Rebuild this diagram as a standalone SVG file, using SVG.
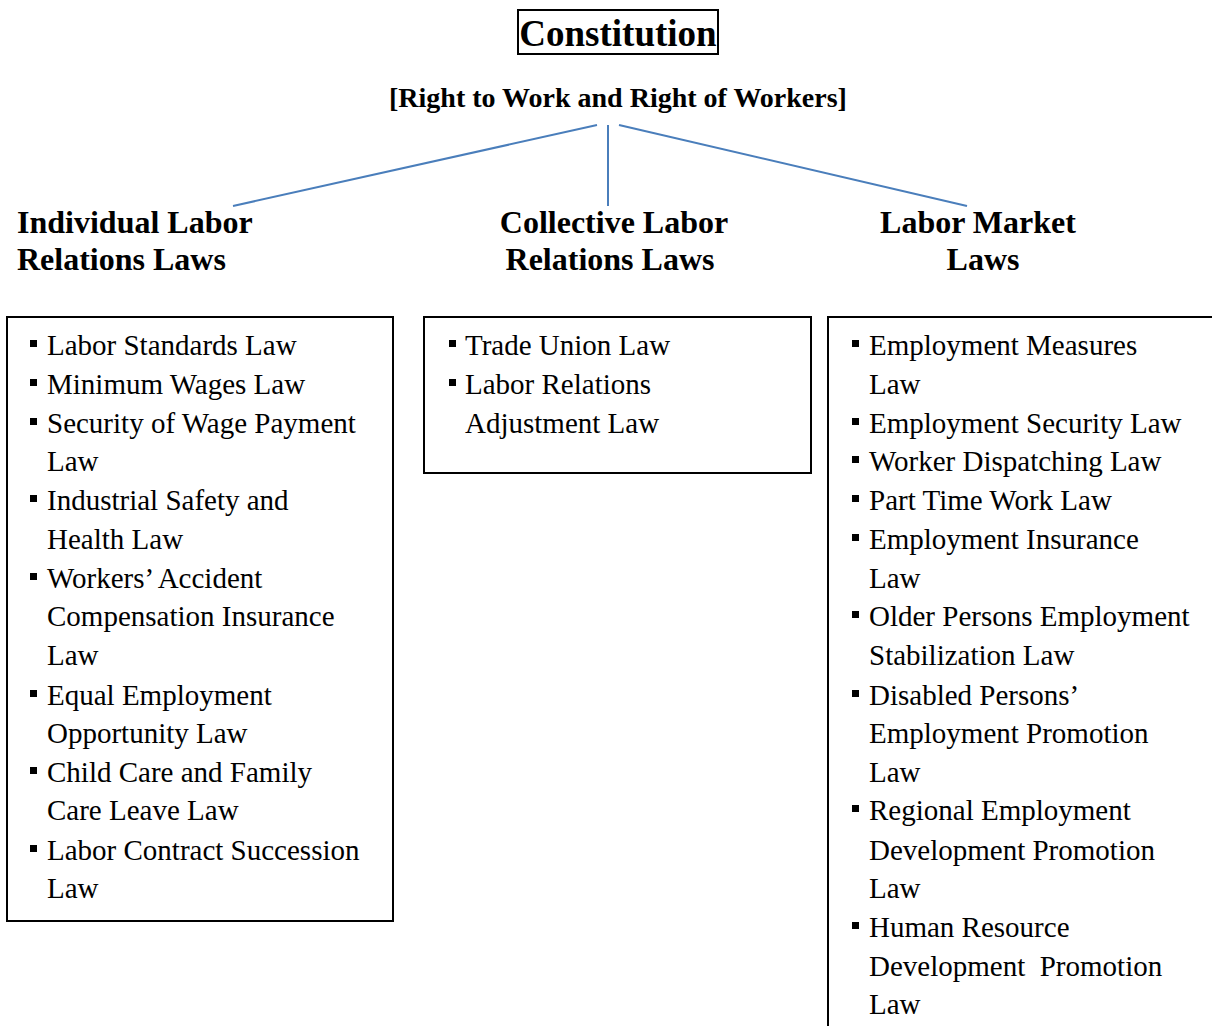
<svg xmlns="http://www.w3.org/2000/svg" width="1212" height="1026" viewBox="0 0 1212 1026">
<style>
.t{font-family:"Liberation Serif","Times New Roman",serif;fill:#000}
.h{font-size:32px;font-weight:bold}
.b{font-size:29px}
.box{fill:none;stroke:#000;stroke-width:2}
.c{stroke:#4a7ebb;stroke-width:2;fill:none}
</style>
<defs>
<rect id="sq" width="7" height="7" fill="#000"/>
</defs>
<rect width="1212" height="1026" fill="#fff"/>
<g id="constitution">
<rect class="box" x="518" y="10" width="200" height="44"/>
<text class="t" x="618" y="46" text-anchor="middle" font-size="37" font-weight="bold">Constitution</text>
<text class="t" x="618" y="107" text-anchor="middle" font-size="28" font-weight="bold">[Right to Work and Right of Workers]</text>
</g>
<g id="connectors">
<line class="c" x1="597" y1="125" x2="233" y2="206"/>
<line class="c" x1="608" y1="125" x2="608" y2="206"/>
<line class="c" x1="619" y1="125" x2="967" y2="206"/>
</g>
<g id="individual">
<text class="t h" x="17" y="233">Individual Labor</text>
<text class="t h" x="17" y="270">Relations Laws</text>
<rect class="box" x="7" y="317" width="386" height="604"/>
<g class="t b">
<use href="#sq" x="30" y="340"/><text x="47" y="355">Labor Standards Law</text>
<use href="#sq" x="30" y="379"/><text x="47" y="394">Minimum Wages Law</text>
<use href="#sq" x="30" y="418"/><text x="47" y="433">Security of Wage Payment</text>
<text x="47" y="471">Law</text>
<use href="#sq" x="30" y="495"/><text x="47" y="510">Industrial Safety and</text>
<text x="47" y="549">Health Law</text>
<use href="#sq" x="30" y="573"/><text x="47" y="588">Workers’ Accident</text>
<text x="47" y="626">Compensation Insurance</text>
<text x="47" y="665">Law</text>
<use href="#sq" x="30" y="690"/><text x="47" y="705">Equal Employment</text>
<text x="47" y="743">Opportunity Law</text>
<use href="#sq" x="30" y="767"/><text x="47" y="782">Child Care and Family</text>
<text x="47" y="820">Care Leave Law</text>
<use href="#sq" x="30" y="845"/><text x="47" y="860">Labor Contract Succession</text>
<text x="47" y="898">Law</text>
</g>
</g>
<g id="collective">
<text class="t h" x="614" y="233" text-anchor="middle">Collective Labor</text>
<text class="t h" x="610" y="270" text-anchor="middle">Relations Laws</text>
<rect class="box" x="424" y="317" width="387" height="156"/>
<g class="t b">
<use href="#sq" x="449" y="340"/><text x="465" y="355">Trade Union Law</text>
<use href="#sq" x="449" y="379"/><text x="465" y="394">Labor Relations</text>
<text x="465" y="433">Adjustment Law</text>
</g>
</g>
<g id="market">
<text class="t h" x="978" y="233" text-anchor="middle">Labor Market</text>
<text class="t h" x="983" y="270" text-anchor="middle">Laws</text>
<rect class="box" x="828" y="317" width="420" height="740"/>
<g class="t b">
<use href="#sq" x="852" y="340"/><text x="869" y="355">Employment Measures</text>
<text x="869" y="394">Law</text>
<use href="#sq" x="852" y="418"/><text x="869" y="433">Employment Security Law</text>
<use href="#sq" x="852" y="456"/><text x="869" y="471">Worker Dispatching Law</text>
<use href="#sq" x="852" y="495"/><text x="869" y="510">Part Time Work Law</text>
<use href="#sq" x="852" y="534"/><text x="869" y="549">Employment Insurance</text>
<text x="869" y="588">Law</text>
<use href="#sq" x="852" y="611"/><text x="869" y="626">Older Persons Employment</text>
<text x="869" y="665">Stabilization Law</text>
<use href="#sq" x="852" y="690"/><text x="869" y="705">Disabled Persons’</text>
<text x="869" y="743">Employment Promotion</text>
<text x="869" y="782">Law</text>
<use href="#sq" x="852" y="805"/><text x="869" y="820">Regional Employment</text>
<text x="869" y="860">Development Promotion</text>
<text x="869" y="898">Law</text>
<use href="#sq" x="852" y="922"/><text x="869" y="937">Human Resource</text>
<text x="869" y="976" xml:space="preserve">Development  Promotion</text>
<text x="869" y="1014">Law</text>
</g>
</g>
</svg>
